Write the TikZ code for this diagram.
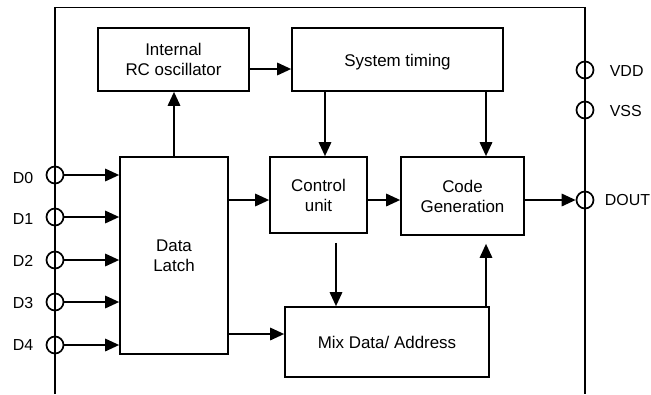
\documentclass[tikz,border=0pt]{standalone}
\usepackage{fontspec}
\setmainfont{Liberation Sans}
\usetikzlibrary{arrows.meta}
\begin{document}
\begin{tikzpicture}[x=1bp,y=-1bp,
  line width=1.7bp,
  font=\fontsize{17}{20}\selectfont,
  blk/.style={draw,rectangle,inner sep=0pt,align=center},
  pin/.style={draw,circle,minimum size=17bp,inner sep=0pt},
  lbl/.style={inner sep=0pt,font=\fontsize{16}{19}\selectfont},
  arr/.style={-{Triangle[length=14bp,width=12.5bp]}}]
\useasboundingbox (0,0) rectangle (651,394);
% frame
\draw (55,394) -- (55,7.5) -- (585,7.5) -- (585,394);
% blocks
\node[blk,minimum width=151bp,minimum height=63bp] (rc) at (173.5,59.5) {Internal\\RC oscillator};
\node[blk,minimum width=211bp,minimum height=63bp,text height=17bp,text depth=3.5bp] (st) at (397.5,59.5) {System timing};
\node[blk,minimum width=97bp,minimum height=76bp] (ctrl) at (318.5,195) {Control\\unit};
\node[blk,minimum width=123bp,minimum height=78bp] (cg) at (462.5,196) {Code\\Generation};
\node[blk,minimum width=108bp,minimum height=197bp] (latch) at (174,255.5) {Data\\Latch};
\node[blk,minimum width=204bp,minimum height=70bp] (mix) at (387,342) {Mix Data/ Address};
% pins
\node[pin] (p0) at (55,175) {};
\node[pin] (p1) at (55,217) {};
\node[pin] (p2) at (55,260) {};
\node[pin] (p3) at (55,302) {};
\node[pin] (p4) at (55,345) {};
\node[pin] (vdd) at (585,70) {};
\node[pin] (vss) at (585,110) {};
\node[pin] (dout) at (585,200) {};
% labels
\node[lbl] (l0) at (23,178) {D0};
\node[lbl] (l1) at (23,219) {D1};
\node[lbl] (l2) at (23,261) {D2};
\node[lbl] (l3) at (23,303) {D3};
\node[lbl] (l4) at (23,345) {D4};
\node[lbl,anchor=west] (lvdd) at (609,71) {VDD};
\node[lbl,anchor=west] (lvss) at (609,111) {VSS};
\node[lbl,anchor=west] (ldout) at (604,200) {DOUT};
% connectors
\foreach \i in {0,...,4}{\draw[arr] (p\i.east) -- (latch.west |- p\i.east);}
\draw[arr] (latch.north) -- (rc.south -| latch.north);
\draw[arr] (rc.east |- 0,69) -- (st.west |- 0,69);
\draw[arr] (st.south -| 325,0) -- (ctrl.north -| 325,0);
\draw[arr] (st.south -| 486,0) -- (cg.north -| 486,0);
\draw[arr] (latch.east |- 0,200) -- (ctrl.west |- 0,200);
\draw[arr] (ctrl.east |- 0,200) -- (cg.west |- 0,200);
\draw[arr] (cg.east |- dout) -- (dout.west);
\draw[arr] (latch.east |- 0,334) -- (mix.west |- 0,334);
\draw[arr,shorten <=9bp] (ctrl.south -| 336,0) -- (mix.north -| 336,0);
\draw[arr,shorten >=8bp] (mix.north -| 486,0) -- (cg.south -| 486,0);
\end{tikzpicture}
\end{document}
